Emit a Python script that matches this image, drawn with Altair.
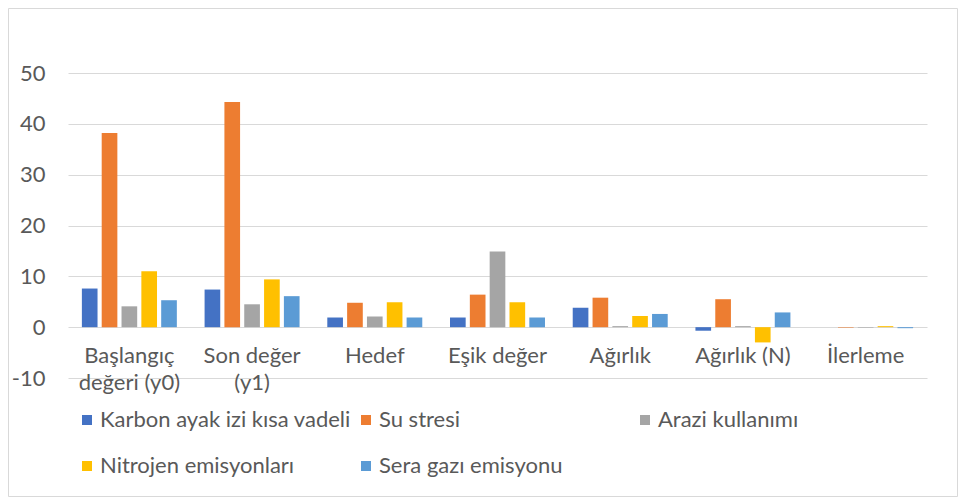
import altair as alt
import pandas as pd

categories = ["Başlangıç değeri (y0)", "Son değer (y1)", "Hedef", "Eşik değer",
              "Ağırlık", "Ağırlık (N)", "İlerleme"]
series = ["Karbon ayak izi kısa vadeli", "Su stresi", "Arazi kullanımı",
          "Nitrojen emisyonları", "Sera gazı emisyonu"]
karbon = [7.6, 7.4, 1.9, 1.9, 3.8, -0.7, 0.0]
su_stresi = [38.2, 44.3, 4.8, 6.4, 5.8, 5.5, -0.1]
arazi = [4.1, 4.5, 2.1, 14.9, 0.2, 0.2, -0.1]
nitrojen = [11.0, 9.4, 4.9, 4.9, 2.2, -3.0, 0.2]
sera = [5.3, 6.1, 1.9, 1.9, 2.6, 2.9, -0.2]
colors = ["#4472C4", "#ED7D31", "#A5A5A5", "#FFC000", "#5B9BD5"]
y_ticks = [-10, 0, 10, 20, 30, 40, 50]

rows = []
for s, vals in zip(series, [karbon, su_stresi, arazi, nitrojen, sera]):
    for c, v in zip(categories, vals):
        rows.append({"kategori": c, "seri": s, "deger": v})
df = pd.DataFrame(rows)

W, H = 859, 305
FONT = "Lato"
TXT = "#595959"
FS = 22

label_expr = ("datum.value == 'Başlangıç değeri (y0)' ? ['Başlangıç', 'değeri (y0)'] : "
              "datum.value == 'Son değer (y1)' ? ['Son değer', '(y1)'] : datum.label")

bars = alt.Chart(df).mark_bar().encode(
    x=alt.X("kategori:N", sort=categories,
            scale=alt.Scale(paddingInner=0.226, paddingOuter=0.113),
            axis=alt.Axis(title=None, labelAngle=0, domain=False, ticks=False, grid=False,
                          offset=-H * 10 / 60, labelPadding=18, labelFontSize=FS,
                          labelFont=FONT, labelColor=TXT, labelLineHeight=27,
                          labelOverlap=False, labelExpr=label_expr, labelBaseline="top")),
    xOffset=alt.XOffset("seri:N", sort=series,
                        scale=alt.Scale(paddingInner=0.21, paddingOuter=0)),
    y=alt.Y("deger:Q", scale=alt.Scale(domain=[-10, 50], nice=False, zero=False),
            axis=alt.Axis(title=None, values=y_ticks, domain=False, ticks=False,
                          gridColor="#D9D9D9", gridWidth=1, labelPadding=23,
                          labelExpr="'' + datum.value",
                          labelFontSize=FS, labelFont=FONT, labelColor=TXT)),
    color=alt.Color("seri:N", sort=series,
                    scale=alt.Scale(domain=series, range=colors),
                    legend=alt.Legend(title=None, orient="none", legendX=8, legendY=336,
                                      direction="horizontal",
                                      columns=3, gridAlign="all", columnPadding=4,
                                      rowPadding=24, symbolType="square", symbolSize=100,
                                      symbolStrokeWidth=0, labelOffset=2,
                                      labelFont=FONT, labelFontSize=FS, labelColor=TXT,
                                      labelLimit=400, padding=0)),
)

frame = alt.Chart(alt.Data(values=[{"a": 1}])).mark_rect(
    fillOpacity=0, stroke="#D9D9D9", strokeWidth=1
).encode(
    x=alt.value(-59.5), x2=alt.value(W + 30.5),
    y=alt.value(-64.5), y2=alt.value(H + 118.5)
)

chart = alt.layer(bars, frame).properties(
    width=W, height=H,
    autosize=alt.AutoSizeParams(type="none"),
    padding={"left": 60, "top": 65, "right": 31, "bottom": 119},
    background="white",
).configure_view(strokeWidth=0)

chart.save("out.html", embed_options={"renderer": "svg", "actions": False})
